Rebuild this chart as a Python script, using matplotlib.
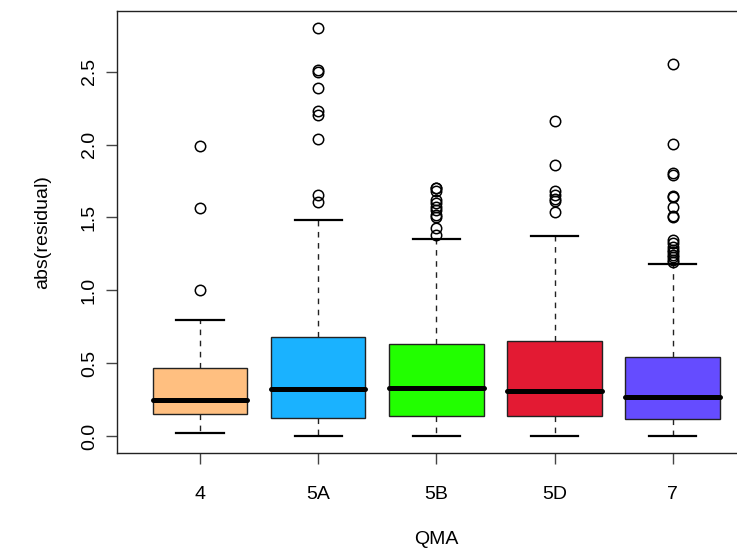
import matplotlib
matplotlib.use("Agg")
import matplotlib.pyplot as plt

plt.rcParams['font.family'] = ['Liberation Sans', 'DejaVu Sans']

# Groups along the x axis
groups = ["4", "5A", "5B", "5D", "7"]
colors = ["#FFBF80", "#1AB2FF", "#22FF00", "#E31A33", "#654CFF"]

# Five-number summaries of abs(residual) per group
whislo = [0.02, 0.0, 0.0, 0.0, 0.0]
q1 = [0.15, 0.125, 0.14, 0.14, 0.115]
med = [0.25, 0.32, 0.33, 0.31, 0.27]
q3 = [0.465, 0.68, 0.63, 0.65, 0.545]
whishi = [0.80, 1.48, 1.35, 1.37, 1.18]

# Points beyond the whiskers
fliers_4 = [1.99, 1.565, 1.0]
fliers_5A = [2.80, 2.51, 2.50, 2.39, 2.23, 2.20, 2.04, 1.655, 1.605]
fliers_5B = [1.70, 1.70, 1.68, 1.62, 1.60, 1.57, 1.55, 1.52, 1.50, 1.43, 1.38]
fliers_5D = [2.16, 1.86, 1.685, 1.655, 1.63, 1.61, 1.54]
fliers_7 = [2.55, 2.005, 1.805, 1.79, 1.65, 1.64, 1.57, 1.51, 1.50,
            1.345, 1.325, 1.30, 1.28, 1.26, 1.245, 1.23, 1.21, 1.195]
fliers = [fliers_4, fliers_5A, fliers_5B, fliers_5D, fliers_7]

W, H = 737, 548
fig = plt.figure(figsize=(W / 100, H / 100), dpi=100)
left, right, top, bottom = 117.3, 755.5, 10.7, 452.5
ax = fig.add_axes([left / W, 1 - bottom / H, (right - left) / W, (bottom - top) / H])

stats = []
for i, g in enumerate(groups):
    stats.append(dict(label=g, whislo=whislo[i], q1=q1[i], med=med[i],
                      q3=q3[i], whishi=whishi[i], fliers=fliers[i]))

bp = ax.bxp(
    stats, positions=range(1, len(groups) + 1), widths=0.8,
    patch_artist=True, showfliers=True,
    boxprops=dict(edgecolor="#222222", linewidth=1.0),
    medianprops=dict(color="black", linewidth=3.6, solid_capstyle="round"),
    whiskerprops=dict(color="#222222", linewidth=1.0, linestyle=(0, (4, 4))),
    capprops=dict(color="black", linewidth=1.6),
    flierprops=dict(marker="o", markerfacecolor="none", markeredgecolor="black",
                    markersize=7.5, markeredgewidth=1.1, linestyle="none"),
)
for patch, c in zip(bp["boxes"], colors):
    patch.set_facecolor(c)
for cap in bp["caps"]:
    x0, x1 = cap.get_xdata()
    mid = (x0 + x1) / 2
    cap.set_xdata([mid - 0.2, mid + 0.2])

ax.set_xlim(0.3, 5.7)
ax.set_ylim(-0.1124, 2.9186)
ax.set_yticks([0.0, 0.5, 1.0, 1.5, 2.0, 2.5])
ax.set_yticklabels(["0.0", "0.5", "1.0", "1.5", "2.0", "2.5"],
                   rotation=90, va="center")
ax.set_xticks(range(1, len(groups) + 1))
ax.set_xticklabels(groups)

for s in ax.spines.values():
    s.set_color("#222222")
    s.set_linewidth(1.0)
ax.tick_params(axis="both", direction="out", length=8, width=1.0,
               color="#444444", labelsize=14, labelcolor="black")
ax.tick_params(axis="x", pad=16)
ax.tick_params(axis="y", pad=6)

ax.set_xlabel("QMA", fontsize=14)
ax.set_ylabel("abs(residual)", fontsize=14)
ax.xaxis.label.set_va("center")
ax.xaxis.set_label_coords(0.5, (bottom - 540) / (bottom - top))
ax.yaxis.label.set_va("center")
ax.yaxis.label.set_ha("center")
ax.yaxis.set_label_coords((43 - left) / (right - left), 0.5)

fig.savefig("out.png", dpi=100)
